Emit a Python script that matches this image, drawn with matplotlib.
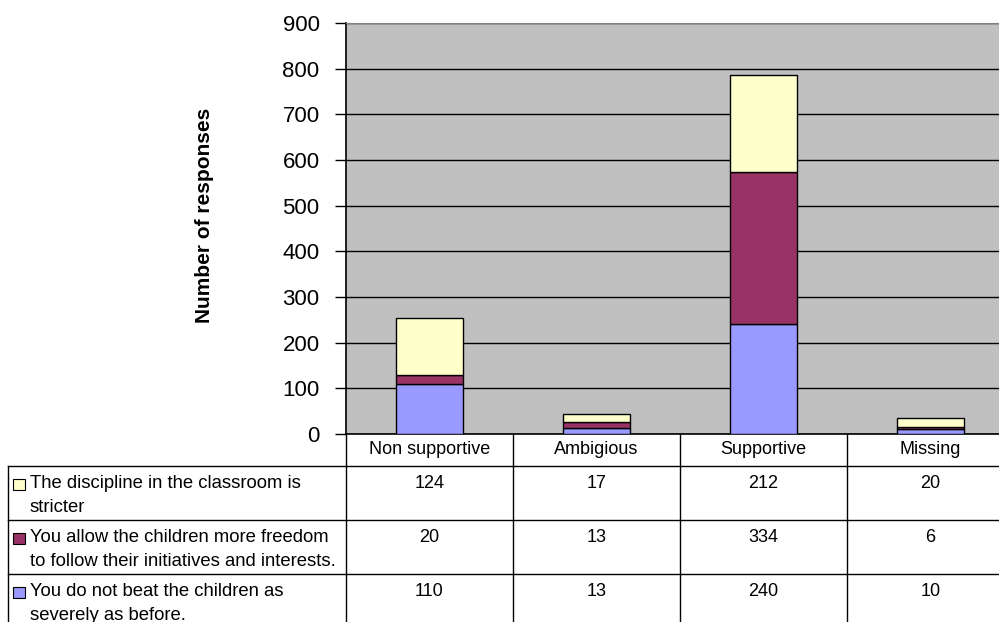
import matplotlib.pyplot as plt
from matplotlib.transforms import blended_transform_factory
from matplotlib.lines import Line2D
from matplotlib.patches import Rectangle

plt.rcParams['font.family'] = ['Liberation Sans', 'DejaVu Sans']

categories = ["Non supportive", "Ambigious", "Supportive", "Missing"]
series_labels = [
    "The discipline in the classroom is\nstricter",
    "You allow the children more freedom\nto follow their initiatives and interests.",
    "You do not beat the children as\nseverely as before.",
]
stricter = [124, 17, 212, 20]
freedom = [20, 13, 334, 6]
no_beating = [110, 13, 240, 10]
yticks = [0, 100, 200, 300, 400, 500, 600, 700, 800, 900]

colors = ["#FFFFCC", "#993366", "#9999FF"]

W, H = 999, 622
fig = plt.figure(figsize=(W / 100, H / 100), dpi=100)


def fy(py):
    return 1 - py / H


# plot area: left 346px, 0 at 434px, 900 at 23px, category width ~167px
ax = fig.add_axes([346 / W, fy(434), 668 / W, (434 - 23) / H])
ax.set_facecolor("#C0C0C0")

x = range(len(categories))
ax.bar(x, no_beating, width=0.4, color=colors[2], edgecolor="black", linewidth=1, zorder=3)
ax.bar(x, freedom, width=0.4, bottom=no_beating, color=colors[1],
       edgecolor="black", linewidth=1, zorder=3)
bottoms = [a + b for a, b in zip(no_beating, freedom)]
ax.bar(x, stricter, width=0.4, bottom=bottoms, color=colors[0],
       edgecolor="black", linewidth=1, zorder=3)

ax.set_xlim(-0.5, len(categories) - 0.5)
ax.set_ylim(0, 900)
ax.set_yticks(yticks)
ax.set_yticklabels([str(t) for t in yticks], fontsize=16)
ax.tick_params(axis="y", length=8, width=1, pad=11, color="black")
ax.set_xticks([])
ax.yaxis.grid(True, color="black", linewidth=1, zorder=1)
for side in ["top", "right"]:
    ax.spines[side].set_color("#808080")
ax.spines["left"].set_linewidth(1.2)
ax.spines["bottom"].set_linewidth(1.2)

fig.text(205 / W, fy(215), "Number of responses", rotation=90, ha="center",
         va="center", fontsize=15, fontweight="bold")

# data table below the chart
tr = blended_transform_factory(ax.transData, fig.transFigure)
row_edges = [434, 466, 520, 574, 622]
table_left = 8 / W

for b in [i - 0.5 for i in range(len(categories))] + [len(categories) - 0.5]:
    fig.add_artist(Line2D([b, b], [fy(434), fy(622)], transform=tr,
                          color="black", linewidth=1))
fig.add_artist(Line2D([table_left, table_left], [fy(466), fy(622)],
                      transform=fig.transFigure, color="black", linewidth=1))
for ry in row_edges[1:4]:
    fig.add_artist(Line2D([table_left, 1], [fy(ry), fy(ry)],
                          transform=fig.transFigure, color="black", linewidth=1))

for i, cat in enumerate(categories):
    fig.text(i, fy(450), cat, transform=tr, ha="center", va="center", fontsize=13)

rows = [stricter, freedom, no_beating]
for r, (label, vals, col) in enumerate(zip(series_labels, rows, colors)):
    top = row_edges[r + 1]
    fig.add_artist(Rectangle((13 / W, fy(top + 24)), 12 / W, 11 / H,
                             transform=fig.transFigure, facecolor=col,
                             edgecolor="black", linewidth=0.8))
    fig.text(30 / W, fy(top + 9), label, ha="left", va="top", fontsize=13.3,
             linespacing=1.5)
    for i, v in enumerate(vals):
        fig.text(i, fy(top + 17), str(v), transform=tr, ha="center",
                 va="center", fontsize=13)

fig.savefig("out.png", dpi=100)
